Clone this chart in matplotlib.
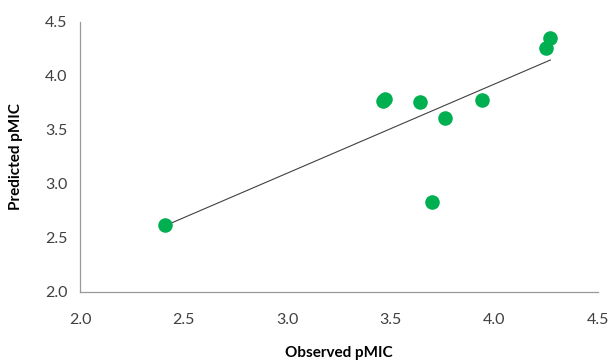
import matplotlib.pyplot as plt
import numpy as np

plt.rcParams['font.family'] = ['Lato', 'DejaVu Sans']

# values
observed = [2.41, 3.46, 3.47, 3.64, 3.76, 3.70, 3.94, 4.25, 4.27]
predicted = [2.62, 3.77, 3.79, 3.76, 3.61, 2.83, 3.78, 4.26, 4.35]
ticks = [2.0, 2.5, 3.0, 3.5, 4.0, 4.5]

x = np.array(observed)
y = np.array(predicted)

fig = plt.figure(figsize=(6.08, 3.63), dpi=100)
ax = fig.add_axes([0.1316, 0.1956, 0.852, 0.7438])

ax.scatter(x, y, s=110, color='#00B050', zorder=3, linewidths=0)

# linear trend line over data range
slope, intercept = np.polyfit(x, y, 1)
xs = np.array([x.min(), x.max()])
ax.plot(xs, slope * xs + intercept, color='#404040', linewidth=0.8, zorder=2)

ax.set_xlim(2.0, 4.5)
ax.set_ylim(2.0, 4.5)
ax.set_xticks(ticks)
ax.set_yticks(ticks)
ax.set_xticklabels([f'{t:.1f}' for t in ticks])
ax.set_yticklabels([f'{t:.1f}' for t in ticks])
ax.tick_params(length=0, labelsize=11.5, colors='#404040', pad=9)
ax.tick_params(axis='x', pad=15)

for side in ['top', 'right']:
    ax.spines[side].set_visible(False)
for side in ['left', 'bottom']:
    ax.spines[side].set_color('#999999')
    ax.spines[side].set_linewidth(0.9)

ax.set_xlabel('Observed pMIC', fontsize=11, fontweight='bold', labelpad=14)
ax.set_ylabel('Predicted pMIC', fontsize=11, fontweight='bold', labelpad=16)

fig.savefig('out.png', dpi=100)
